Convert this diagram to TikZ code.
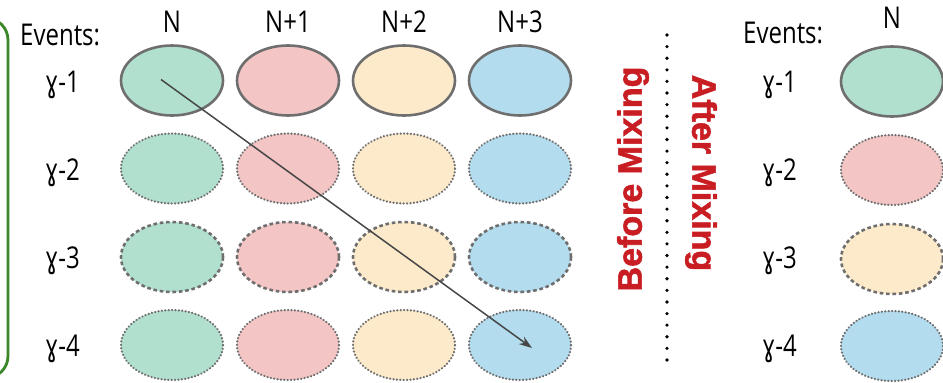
\documentclass[tikz,border=0pt]{standalone}
\usepackage{fontspec}
\setmainfont[FakeStretch=0.8]{Open Sans}
\newfontfamily\gfont[FakeStretch=0.74]{DejaVu Sans}
\newfontfamily\redfont[FakeBold=1.6]{Liberation Sans}
\usetikzlibrary{shapes.geometric,arrows.meta,calc}
\definecolor{cgreen}{RGB}{178,224,207}
\definecolor{cpink}{RGB}{243,197,197}
\definecolor{cyellow}{RGB}{252,234,202}
\definecolor{cblue}{RGB}{179,221,238}
\definecolor{edgegray}{RGB}{110,110,110}
\definecolor{framegreen}{RGB}{58,135,40}
\definecolor{mixred}{RGB}{200,30,35}
\newcommand{\gam}{{\gfont ɣ}}
\tikzset{
  ev/.style={ellipse, minimum width=102pt, minimum height=70pt, inner sep=0pt, draw=edgegray, line width=2.6pt},
  fine/.style={line width=2.4pt, dash pattern=on 0.1pt off 3.3pt, line cap=round},
  dashy/.style={line width=2.6pt, dash pattern=on 3.6pt off 2.8pt},
  lbl/.style={font=\fontsize{30}{32}\selectfont, inner sep=0pt, anchor=base west},
  hdr/.style={font=\fontsize{30}{32}\selectfont, inner sep=0pt, anchor=base},
  mix/.style={font=\redfont\bfseries\fontsize{34}{36}\selectfont, text=mixred, inner sep=0pt}
}
\begin{document}
\begin{tikzpicture}[x=1pt,y=-1pt]
\useasboundingbox (0,0) rectangle (943,383);
\begin{scope}
\clip (0,0) rectangle (943,383);
% green frame
\draw[framegreen, line width=2.8pt, rounded corners=22pt] (-120,18) rectangle (8,378);
% headings
\node[lbl] (ev1) at (20,45) {Events:};
\node[hdr] (hN) at (172,32) {N};
\node[hdr] (hN1) at (288,32) {N+1};
\node[hdr] (hN2) at (404,32) {N+2};
\node[hdr] (hN3) at (520,32) {N+3};
% row labels
\node[lbl] (g1) at (45,92) {\gam-1};
\node[lbl] (g2) at (45,180) {\gam-2};
\node[lbl] (g3) at (45,268) {\gam-3};
\node[lbl] (g4) at (45,356) {\gam-4};
% ellipses
\foreach \c/\x/\col in {1/172/cgreen,2/288/cpink,3/404/cyellow,4/520/cblue}{
  \node[ev, fill=\col] (e1\c) at (\x,80.5) {};
  \node[ev, fill=\col, fine] (e2\c) at (\x,168.5) {};
  \node[ev, fill=\col, dashy] (e3\c) at (\x,257) {};
  \node[ev, fill=\col, fine] (e4\c) at (\x,345) {};
}
% arrow
\draw[line width=1.5pt, draw=black!72, -{Stealth[length=13pt,width=9pt]}]
  ($(e11.center)+(-11,-1)$) -- ($(e44.center)+(12,3)$);
% divider
\coordinate (dtop) at (667,35);
\coordinate (dbot) at (667,360);
\foreach \i in {0,...,28}{
  \fill[black] ($(dtop)!\i/28!(dbot)$) circle (1.8pt);
}
% mixing labels
\node[mix, rotate=90] (before) at (633,179) {Before Mixing};
\node[mix, rotate=-90] (after) at (701,173) {After Mixing};
% right side
\node[lbl] (ev2) at (743,43) {Events:};
\node[hdr] (rN) at (892,28) {N};
\node[lbl] (r1) at (762,92) {\gam-1};
\node[lbl] (r2) at (762,180) {\gam-2};
\node[lbl] (r3) at (762,268) {\gam-3};
\node[lbl] (r4) at (762,356) {\gam-4};
\node[ev, fill=cgreen] (f1) at (892,81.5) {};
\node[ev, fill=cpink, fine] (f2) at (892,170) {};
\node[ev, fill=cyellow, dashy] (f3) at (892,259) {};
\node[ev, fill=cblue, fine] (f4) at (892,346) {};
\end{scope}
\end{tikzpicture}
\end{document}
